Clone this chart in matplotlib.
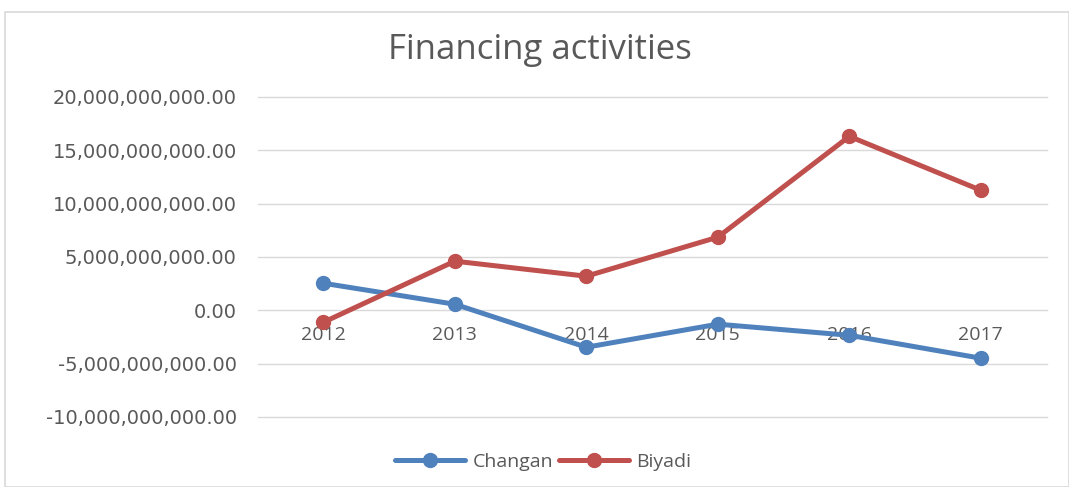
import numpy as np
from matplotlib import pyplot as plt
from matplotlib.patches import Rectangle
from matplotlib.ticker import FuncFormatter

# data
years = ['2012', '2013', '2014', '2015', '2016', '2017']
changan = [2.53e9, 0.56e9, -3.47e9, -1.31e9, -2.35e9, -4.50e9]
biyadi = [-1.13e9, 4.60e9, 3.19e9, 6.85e9, 16.30e9, 11.25e9]
yTicks = [-10e9, -5e9, 0, 5e9, 10e9, 15e9, 20e9]

blue = '#4F81BD'
red = '#C0504D'
grey = '#595959'

fig = plt.figure(figsize=(10.69, 4.87), dpi=100)
ax = fig.add_axes([0.241, 0.144, 0.738, 0.657])

# outer chart frame
fig.patches.append(Rectangle((0.005, 0.0), 0.995, 0.975, transform=fig.transFigure,
                             fill=False, edgecolor='#d9d9d9', linewidth=1.2))

x = np.arange(len(years))
ax.plot(x, changan, color=blue, linewidth=3.6, marker='o', markersize=10,
        label='Changan', solid_capstyle='round')
ax.plot(x, biyadi, color=red, linewidth=3.6, marker='o', markersize=10,
        label='Biyadi', solid_capstyle='round')

ax.set_xlim(-0.5, len(years) - 0.5)
ax.set_ylim(yTicks[0], yTicks[-1])
ax.set_yticks(yTicks)
ax.yaxis.set_major_formatter(FuncFormatter(lambda v, p: f'{v:,.2f}'))
ax.tick_params(axis='y', length=0, pad=15, labelsize=14, labelcolor=grey)
ax.set_xticks([])
ax.grid(axis='y', color='#d9d9d9', linewidth=1)
for gl in ax.get_ygridlines():
    gl.set_clip_on(False)
ax.set_axisbelow(True)
for s in ax.spines.values():
    s.set_visible(False)

# category labels sit just under the zero line
for i, yr in enumerate(years):
    ax.annotate(yr, (i, 0), xytext=(0, -25), textcoords='offset pixels',
                ha='center', va='center', fontsize=14, color=grey,
                family='Open Sans', zorder=1)

fig.text(0.505, 0.898, 'Financing activities', ha='center', va='center',
         fontsize=25, color=grey, family='Open Sans')

leg = fig.legend(loc='center', bbox_to_anchor=(0.508, 0.051), ncol=2, frameon=False,
                 fontsize=14, handlelength=3.6, columnspacing=0.3, handletextpad=0.4)
for t in leg.get_texts():
    t.set_color(grey)
    t.set_family('Open Sans')

fig.savefig('out.png', dpi=100)
